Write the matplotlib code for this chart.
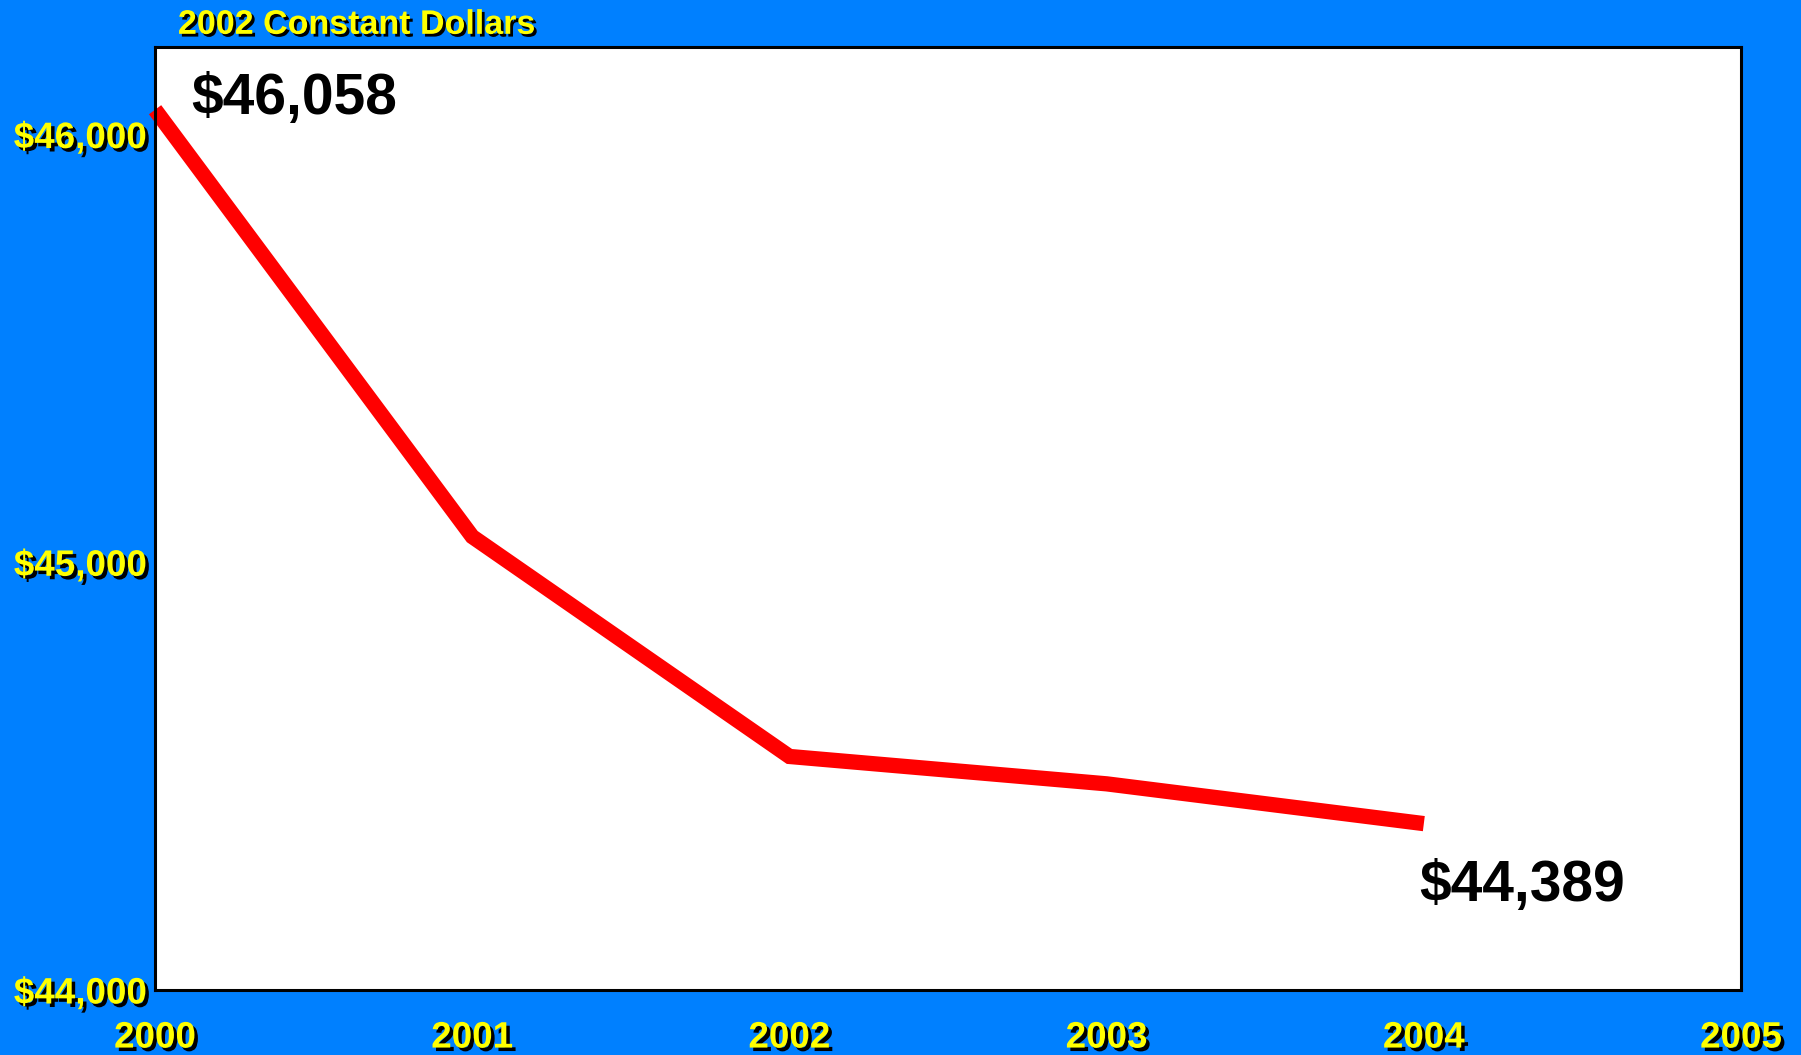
import matplotlib
matplotlib.use("Agg")
import matplotlib.pyplot as plt
import matplotlib.patheffects as pe

# median household income, 2002 constant dollars
years = [2000, 2001, 2002, 2003, 2004]
income = [46058, 45060, 44546, 44482, 44389]
yticks = [44000, 45000, 46000]
xticks = [2000, 2001, 2002, 2003, 2004, 2005]

plt.rcParams['font.family'] = ['Liberation Sans', 'DejaVu Sans']
bg = '#0080ff'

fig = plt.figure(figsize=(18.01, 10.55), dpi=100, facecolor=bg)
ax = fig.add_axes([0.0861, 0.0616, 0.8806, 0.894])

ax.plot(years, income, color='red', lw=11, solid_capstyle='butt',
        solid_joinstyle='miter', clip_on=False)

ax.set_xlim(2000, 2005)
ax.set_ylim(44000, 46205)
ax.set_xticks(xticks)
ax.set_yticks(yticks)
ax.set_xticklabels([str(x) for x in xticks])
ax.set_yticklabels(['${:,}'.format(v) for v in yticks])
ax.tick_params(length=0)
ax.tick_params(axis='y', pad=6)
ax.tick_params(axis='x', pad=22)
for s in ax.spines.values():
    s.set_linewidth(2.2)
    s.set_color('black')

shadow = [pe.SimplePatchShadow(offset=(2.5, -2.5), shadow_rgbFace='black', alpha=1), pe.Normal()]
for lab in ax.get_xticklabels() + ax.get_yticklabels():
    lab.set_fontsize(26.5)
    lab.set_fontweight('bold')
    lab.set_color('yellow')
    lab.set_path_effects(shadow)

fig.text(0.0988, 0.976, '2002 Constant Dollars', fontsize=24.5, fontweight='bold',
         color='yellow', va='center', ha='left',
         path_effects=[pe.SimplePatchShadow(offset=(2, -2), shadow_rgbFace='black', alpha=1), pe.Normal()])

ax.annotate('${:,}'.format(income[0]), (years[0], income[0]), xytext=(26, -3),
            textcoords='offset points', fontsize=41, fontweight='bold',
            ha='left', va='baseline', color='black')
ax.annotate('${:,}'.format(income[-1]), (years[-1], income[-1]), xytext=(-3, -56),
            textcoords='offset points', fontsize=41, fontweight='bold',
            ha='left', va='baseline', color='black')

plt.savefig('out.png', dpi=100, facecolor=bg)
